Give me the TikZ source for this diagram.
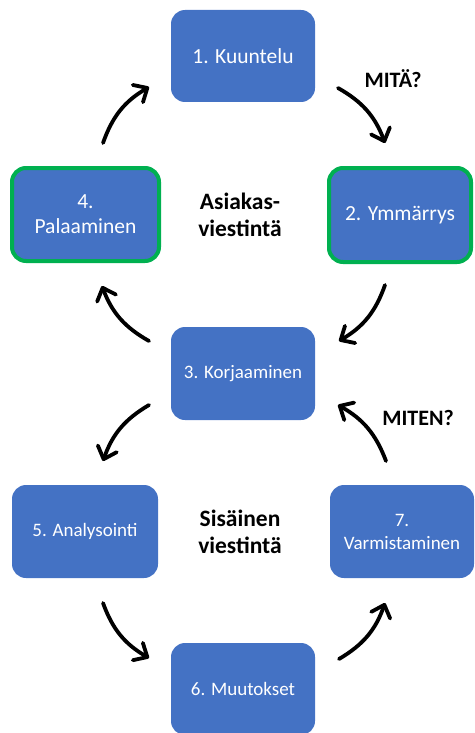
\documentclass[tikz,border=0pt]{standalone}
\usepackage{fontspec}
\setmainfont{Carlito}
\usetikzlibrary{arrows.meta}
\definecolor{boxblue}{HTML}{4472C4}
\definecolor{ringgreen}{HTML}{00B050}
\tikzset{
  stage/.style={rectangle, rounded corners=14pt, fill=boxblue, text=white,
    align=center, inner sep=0pt},
  bigtxt/.style={font=\fontsize{21.5}{25}\selectfont},
  smalltxt/.style={font=\fontsize{19}{23}\selectfont},
  keystage/.style={draw=ringgreen, line width=4pt},
  flow/.style={line width=3.8pt, line cap=round,
    -{Straight Barb[length=11pt, width=20pt, line cap=round, line join=round]}},
  caption/.style={font=\bfseries\fontsize{23.5}{27}\selectfont, align=center},
  question/.style={font=\bfseries\fontsize{22}{26}\selectfont}
}
\begin{document}
\begin{tikzpicture}[x=1pt, y=-1pt]
  \useasboundingbox (0,0) rectangle (474,733);
  \clip (0,0) rectangle (474,733);

  % stages of the cycle
  \node[stage, bigtxt, minimum width=144pt, minimum height=92pt] (s1) at (243,56) {1. Kuuntelu};
  \node[stage, bigtxt, keystage, minimum width=142pt, minimum height=94pt] (s2) at (400,215) {2. Ymmärrys};
  \node[stage, bigtxt, keystage, minimum width=147pt, minimum height=93pt] (s4) at (85.5,214.5) {4.\\Palaaminen};
  \node[stage, smalltxt, minimum width=144pt, minimum height=93pt] (s3) at (243,373.5) {3. Korjaaminen};
  \node[stage, smalltxt, minimum width=146pt, minimum height=93pt] (s5) at (85,531.5) {5. Analysointi};
  \node[stage, smalltxt, minimum width=144pt, minimum height=93pt] (s7) at (402,531.5) {7.\\Varmistaminen};
  \node[stage, smalltxt, minimum width=144pt, minimum height=92pt] (s6) at (243,689) {6. Muutokset};

  % captions
  \node[caption] (outer) at (240,215) {Asiakas-\\viestintä};
  \node[caption] (inner) at (240,532) {Sisäinen\\viestintä};
  \node[question] (what) at (393,79) {MITÄ?};
  \node[question] (how) at (418,418) {MITEN?};

  % arrow end points
  \coordinate (a1) at (338,88);  \coordinate (b1) at (385,143);
  \coordinate (a2) at (385,285); \coordinate (b2) at (339,341);
  \coordinate (a3) at (149,341); \coordinate (b3) at (102,286);
  \coordinate (a4) at (103,143); \coordinate (b4) at (149,87);
  \coordinate (a5) at (149,405); \coordinate (b5) at (103,461);
  \coordinate (a6) at (103,603); \coordinate (b6) at (149,658);
  \coordinate (a7) at (339,659); \coordinate (b7) at (385,603);
  \coordinate (a8) at (386,461); \coordinate (b8) at (338,405);

  % upper loop
  \draw[flow] (a1) to[bend left=20] (b1);
  \draw[flow] (a2) to[bend left=20] (b2);
  \draw[flow] (a3) to[bend left=20] (b3);
  \draw[flow] (a4) to[bend left=20] (b4);
  % lower loop
  \draw[flow] (a5) to[bend right=20] (b5);
  \draw[flow] (a6) to[bend right=20] (b6);
  \draw[flow] (a7) to[bend right=20] (b7);
  \draw[flow] (a8) to[bend right=20] (b8);
\end{tikzpicture}
\end{document}
